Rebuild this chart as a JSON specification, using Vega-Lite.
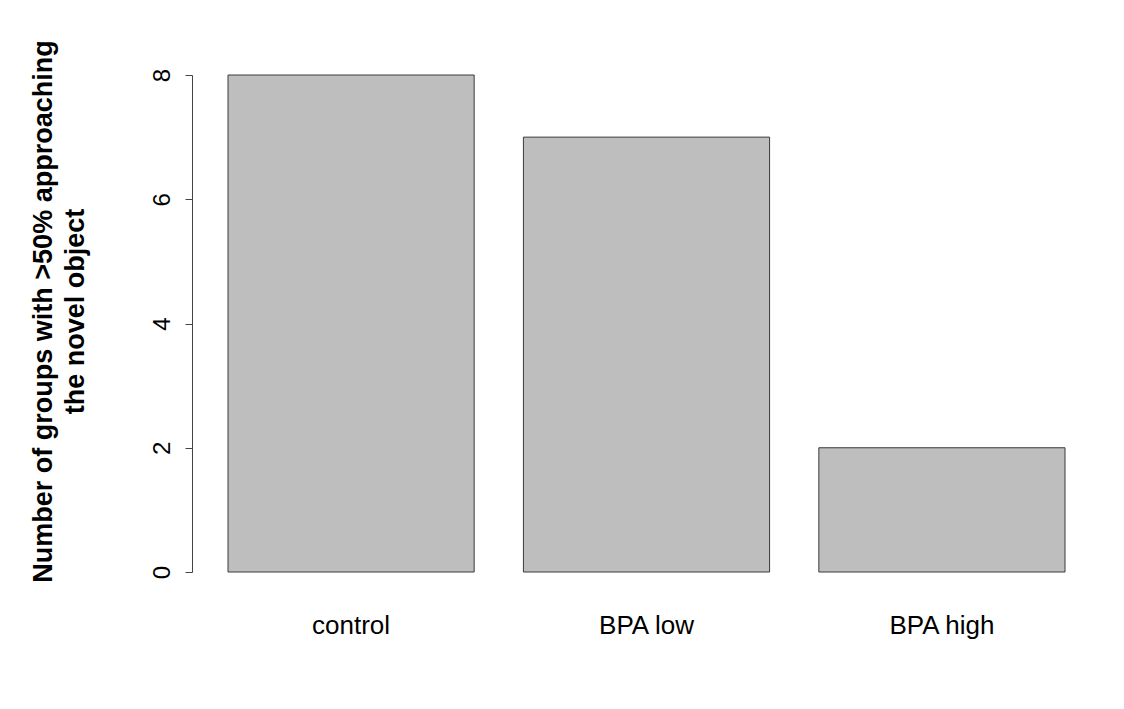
{
  "$schema": "https://vega.github.io/schema/vega-lite/v6.json",
  "width": 837,
  "height": 497,
  "autosize": {"type": "none"},
  "padding": {"left": 228, "top": 75, "right": 59, "bottom": 137},
  "background": "white",
  "config": {"view": {"stroke": null}, "font": "Liberation Sans"},
  "data": {"values": [
    {"group": "control", "count": 8},
    {"group": "BPA low", "count": 7},
    {"group": "BPA high", "count": 2}
  ]},
  "mark": {"type": "bar", "fill": "#bebebe", "stroke": "#3a3a3a", "strokeWidth": 1},
  "encoding": {
    "x": {
      "field": "group", "type": "nominal", "sort": null,
      "scale": {"paddingInner": 0.1667, "paddingOuter": 0},
      "axis": {"title": null, "domain": false, "ticks": false, "labelAngle": 0,
               "labelFontSize": 26, "labelColor": "black", "labelPadding": 40, "labelFont": "Liberation Sans"}
    },
    "y": {
      "field": "count", "type": "quantitative",
      "scale": {"domain": [0, 8], "nice": false, "zero": true},
      "axis": {
        "values": [0, 2, 4, 6, 8], "grid": false, "offset": 36,
        "domainColor": "#444", "tickColor": "#444", "tickSize": 7,
        "labelAngle": -90, "labelAlign": "center", "labelBaseline": "alphabetic",
        "labelPadding": 16, "labelFontSize": 24, "labelColor": "black", "labelFont": "Liberation Sans",
        "title": ["Number of groups with >50% approaching", "the novel object"],
        "titleFont": "Liberation Sans", "titleFontSize": 27, "titleFontWeight": "bold", "titleColor": "black",
        "titleAngle": -90, "titleAlign": "center", "titleBaseline": "middle",
        "titleX": -149, "titleY": 236, "titleLineHeight": 32
      }
    }
  }
}
